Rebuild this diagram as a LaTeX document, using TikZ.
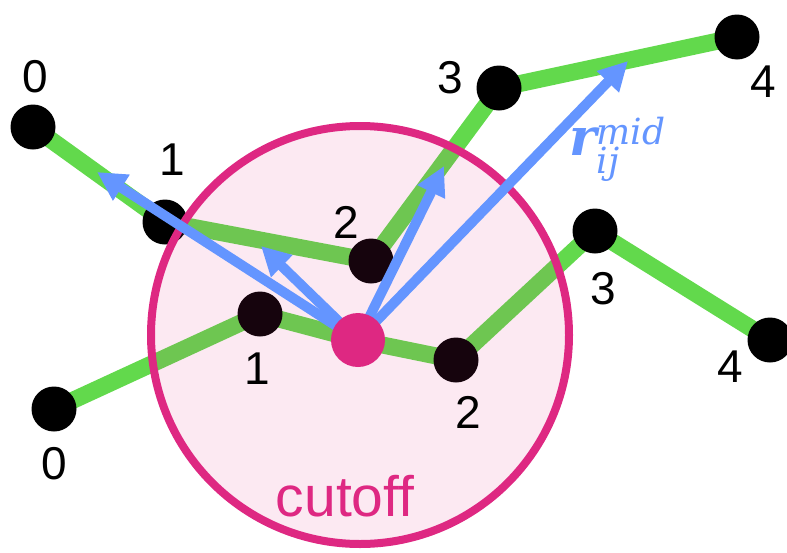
\documentclass[tikz,border=0pt]{standalone}
\usepackage{fontspec}
\setmainfont{Liberation Sans}
\newfontfamily\rfont{DejaVu Serif}
\usetikzlibrary{arrows.meta}
\pgfdeclarelayer{bg}
\pgfsetlayers{bg,main}
\definecolor{chaingreen}{RGB}{98,217,76}
\definecolor{cutpink}{RGB}{222,40,130}
\definecolor{vecblue}{RGB}{100,149,255}
\tikzset{
  dot/.style={circle,fill=black,minimum size=45pt,inner sep=0pt},
  centerdot/.style={circle,fill=cutpink,minimum size=54pt,inner sep=0pt},
  cutcircle/.style={circle,draw=cutpink,line width=8pt,fill=cutpink,fill opacity=0.1,minimum size=418pt,inner sep=0pt},
  chainline/.style={draw=chaingreen,line width=17pt,line join=round,line cap=round},
  vec/.style={draw=vecblue,line width=10pt,-{Triangle[length=29pt,width=29pt]}},
  idx/.style={font=\fontsize{46}{50}\selectfont,inner sep=0pt,text depth=0pt},
  cutlabel/.style={font=\fontsize{57}{62}\selectfont,text=cutpink,inner sep=0pt,anchor=base},
}
\begin{document}
\begin{tikzpicture}[x=1pt,y=-1pt]
\useasboundingbox (0,0) rectangle (787,552);
% upper chain beads
\node[dot] (a0) at (33,127) {};
\node[dot] (a1) at (165,222) {};
\node[dot] (a2) at (371,261) {};
\node[dot] (a3) at (499,88) {};
\node[dot] (a4) at (737,37) {};
% lower chain beads
\node[dot] (b0) at (54,409) {};
\node[dot] (b1) at (260,314) {};
\node[dot] (b2) at (456,360) {};
\node[dot] (b3) at (595,231) {};
\node[dot] (b4) at (770,340) {};
% cutoff sphere
\node[cutcircle] (cut) at (360,335) {};
\node[cutlabel] (cutlbl) at (345,516) {cutoff};
% vectors
\coordinate (ctr) at (358,340);
\coordinate (t1) at (97,172);
\coordinate (t2) at (261,246);
\coordinate (t3) at (444,166);
\coordinate (t4) at (628,61);
\draw[vec] (ctr) -- (t1);
\draw[vec] (ctr) -- (t2);
\draw[vec] (ctr) -- (t3);
\draw[vec] (ctr) -- (t4);
\node[centerdot] (c) at (ctr) {};
% vector label
\node[anchor=base west,inner sep=0pt,text=vecblue] (rlbl) at (569,155)
  {\rfont{\fontsize{52}{58}\selectfont\bfseries\itshape r}{\fontsize{36}{40}\selectfont\itshape\rlap{\raisebox{11pt}{mid}}\raisebox{-18pt}{ij}}};
% index labels
\node[idx] (la0) at (35,76) {0};
\node[idx] (la1) at (172,160) {1};
\node[idx] (la2) at (346,222) {2};
\node[idx] (la3) at (450,77) {3};
\node[idx] (la4) at (763,82) {4};
\node[idx] (lb0) at (54,463) {0};
\node[idx] (lb1) at (257,369) {1};
\node[idx] (lb2) at (468,412) {2};
\node[idx] (lb3) at (603,288) {3};
\node[idx] (lb4) at (730,367) {4};
% chains
\begin{pgfonlayer}{bg}
\draw[chainline] (a0.center) -- (a1.center) -- (a2.center) -- (a3.center) -- (a4.center);
\draw[chainline] (b0.center) -- (b1.center) -- (c.center) -- (b2.center) -- (b3.center) -- (b4.center);
\end{pgfonlayer}
\end{tikzpicture}
\end{document}
